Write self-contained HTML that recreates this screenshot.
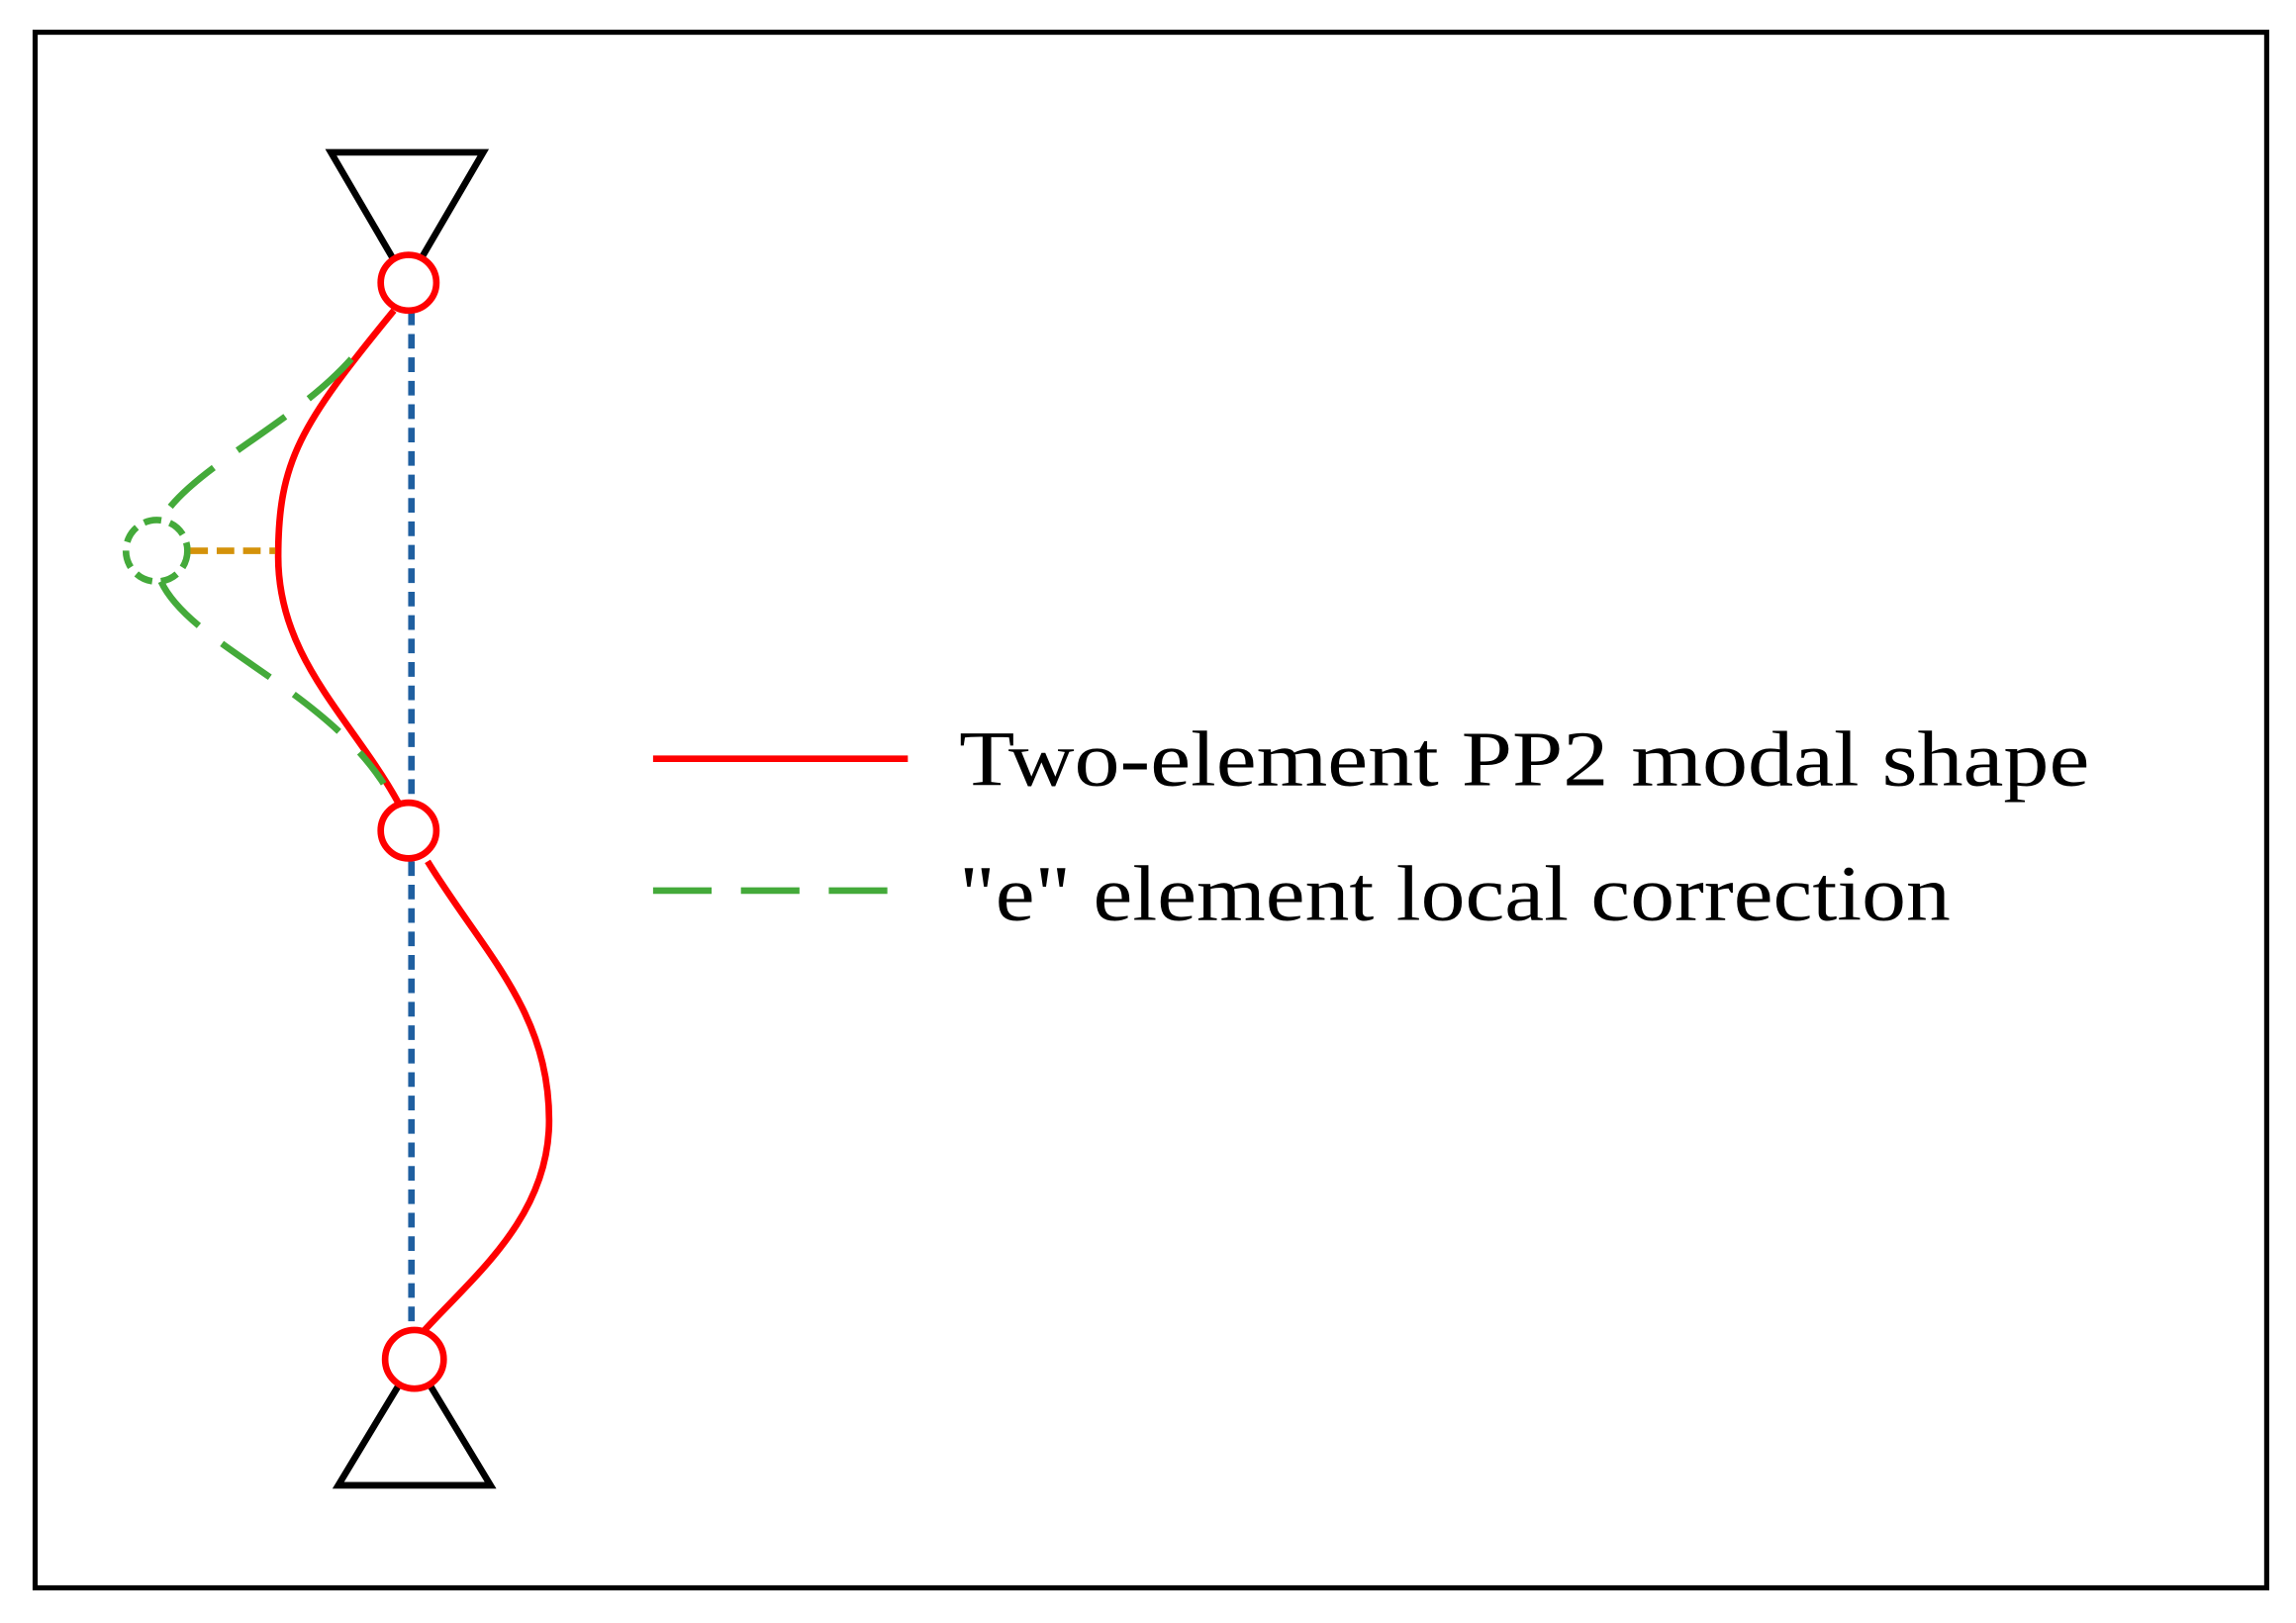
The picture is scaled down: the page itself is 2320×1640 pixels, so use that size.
<!DOCTYPE html>
<html>
<head>
<meta charset="utf-8">
<style>
html,body{margin:0;padding:0;background:#fff;}
svg{display:block;}
</style>
</head>
<body>
<svg width="2320" height="1640" viewBox="0 0 1568 1108" preserveAspectRatio="none" xmlns="http://www.w3.org/2000/svg">
<rect x="0" y="0" width="1568" height="1108" fill="#fff"/>
<rect x="24" y="22" width="1524" height="1062" fill="none" stroke="#000" stroke-width="3.5"/>
<polygon points="226,104 330,104 278,193" fill="none" stroke="#000" stroke-width="4.5"/>
<polygon points="283,928 231,1014 335,1014" fill="none" stroke="#000" stroke-width="4.5"/>
<line x1="281" y1="212" x2="281" y2="548" stroke="#1f5fa0" stroke-width="4.5" stroke-dasharray="10,6"/>
<line x1="281" y1="588" x2="281" y2="908" stroke="#1f5fa0" stroke-width="4.5" stroke-dasharray="10,6"/>
<path d="M269,212 C205,290 190,315 190,380 C190,450 240,490 272,548" fill="none" stroke="#f00" stroke-width="4.5"/>
<path d="M292,588 C330,650 375,690 375,765 C375,830 325,870 290,908" fill="none" stroke="#f00" stroke-width="4.5"/>
<path d="M240,245 C200,290 130,320 110,355" fill="none" stroke="#44aa3a" stroke-width="4.5" stroke-dasharray="40,20"/>
<path d="M110,397 C130,440 220,470 262,535" fill="none" stroke="#44aa3a" stroke-width="4.5" stroke-dasharray="40,20"/>
<circle cx="107" cy="376" r="21" fill="none" stroke="#44aa3a" stroke-width="4.5" stroke-dasharray="12,6"/>
<line x1="130" y1="376" x2="188" y2="376" stroke="#d4920a" stroke-width="4.5" stroke-dasharray="12,6"/>
<circle cx="279" cy="193" r="19" fill="#fff" stroke="#f00" stroke-width="4.5"/>
<circle cx="279" cy="567" r="19" fill="#fff" stroke="#f00" stroke-width="4.5"/>
<circle cx="283" cy="928" r="20" fill="#fff" stroke="#f00" stroke-width="4.5"/>
<line x1="446" y1="518" x2="620" y2="518" stroke="#f00" stroke-width="4.5"/>
<line x1="446" y1="608" x2="620" y2="608" stroke="#44aa3a" stroke-width="4.5" stroke-dasharray="40,20"/>
<text x="655" y="536" font-family="Liberation Serif, serif" font-size="54" textLength="772" lengthAdjust="spacingAndGlyphs">Two-element PP2 modal shape</text>
<text x="655" y="628" font-family="Liberation Serif, serif" font-size="54" textLength="677" lengthAdjust="spacingAndGlyphs">"e" element local correction</text>
</svg>
</body>
</html>
